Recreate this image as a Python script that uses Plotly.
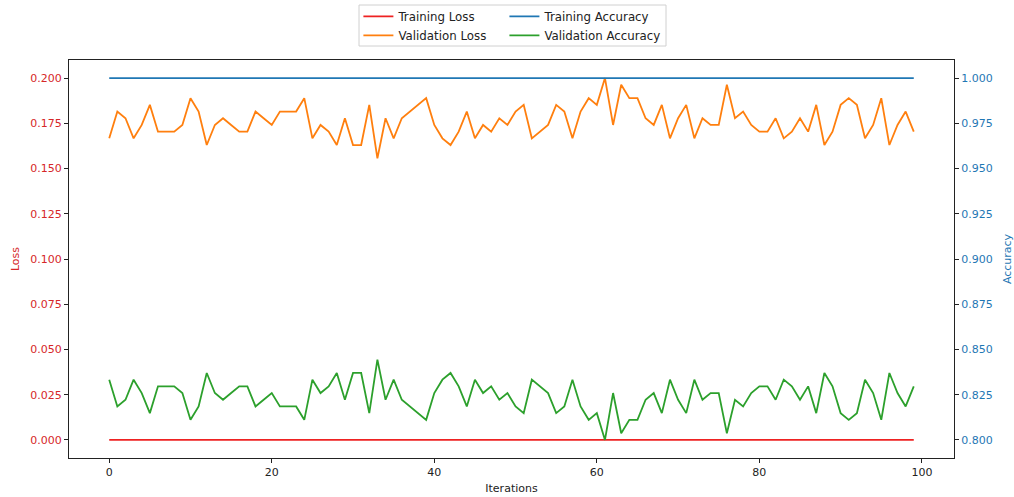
import plotly.graph_objects as go

# Iteration index
iterations = list(range(100))

# Per-iteration metrics
training_loss = [0.0] * 100
training_accuracy = [1.0] * 100

validation_loss = [
    0.1667, 0.1815, 0.1778, 0.1667, 0.1741, 0.1852, 0.1704, 0.1704, 0.1704, 0.1741,
    0.1889, 0.1815, 0.1630, 0.1741, 0.1778, 0.1741, 0.1704, 0.1704, 0.1815, 0.1778,
    0.1741, 0.1815, 0.1815, 0.1815, 0.1889, 0.1667, 0.1741, 0.1704, 0.1630, 0.1778,
    0.1630, 0.1630, 0.1852, 0.1556, 0.1778, 0.1667, 0.1778, 0.1815, 0.1852, 0.1889,
    0.1741, 0.1667, 0.1630, 0.1704, 0.1815, 0.1667, 0.1741, 0.1704, 0.1778, 0.1741,
    0.1815, 0.1852, 0.1667, 0.1704, 0.1741, 0.1852, 0.1815, 0.1667, 0.1815, 0.1889,
    0.1852, 0.2000, 0.1741, 0.1963, 0.1889, 0.1889, 0.1778, 0.1741, 0.1852, 0.1667,
    0.1778, 0.1852, 0.1667, 0.1778, 0.1741, 0.1741, 0.1963, 0.1778, 0.1815, 0.1741,
    0.1704, 0.1704, 0.1778, 0.1667, 0.1704, 0.1778, 0.1704, 0.1852, 0.1630, 0.1704,
    0.1852, 0.1889, 0.1852, 0.1667, 0.1741, 0.1889, 0.1630, 0.1741, 0.1815, 0.1704,
]

validation_accuracy = [
    0.8333, 0.8185, 0.8222, 0.8333, 0.8259, 0.8148, 0.8296, 0.8296, 0.8296, 0.8259,
    0.8111, 0.8185, 0.8370, 0.8259, 0.8222, 0.8259, 0.8296, 0.8296, 0.8185, 0.8222,
    0.8259, 0.8185, 0.8185, 0.8185, 0.8111, 0.8333, 0.8259, 0.8296, 0.8370, 0.8222,
    0.8370, 0.8370, 0.8148, 0.8444, 0.8222, 0.8333, 0.8222, 0.8185, 0.8148, 0.8111,
    0.8259, 0.8333, 0.8370, 0.8296, 0.8185, 0.8333, 0.8259, 0.8296, 0.8222, 0.8259,
    0.8185, 0.8148, 0.8333, 0.8296, 0.8259, 0.8148, 0.8185, 0.8333, 0.8185, 0.8111,
    0.8148, 0.8000, 0.8259, 0.8037, 0.8111, 0.8111, 0.8222, 0.8259, 0.8148, 0.8333,
    0.8222, 0.8148, 0.8333, 0.8222, 0.8259, 0.8259, 0.8037, 0.8222, 0.8185, 0.8259,
    0.8296, 0.8296, 0.8222, 0.8333, 0.8296, 0.8222, 0.8296, 0.8148, 0.8370, 0.8296,
    0.8148, 0.8111, 0.8148, 0.8333, 0.8259, 0.8111, 0.8370, 0.8259, 0.8185, 0.8296,
]

loss_ticks = [0.0, 0.025, 0.05, 0.075, 0.1, 0.125, 0.15, 0.175, 0.2]
acc_ticks = [0.8, 0.825, 0.85, 0.875, 0.9, 0.925, 0.95, 0.975, 1.0]
iter_ticks = [0, 20, 40, 60, 80, 100]

RED = "#d62728"
LINE_RED = "#ee2222"
ORANGE = "#ff7f0e"
BLUE = "#1f77b4"
GREEN = "#2ca02c"
FONT = "DejaVu Sans"

fig = go.Figure()
fig.add_trace(go.Scatter(x=iterations, y=training_loss, mode="lines", name="Training Loss",
                         line=dict(color=LINE_RED, width=1.8), yaxis="y", legend="legend"))
fig.add_trace(go.Scatter(x=iterations, y=validation_loss, mode="lines", name="Validation Loss",
                         line=dict(color=ORANGE, width=1.8), yaxis="y", legend="legend"))
fig.add_trace(go.Scatter(x=iterations, y=training_accuracy, mode="lines", name="Training Accuracy",
                         line=dict(color=BLUE, width=1.8), yaxis="y2", legend="legend2"))
fig.add_trace(go.Scatter(x=iterations, y=validation_accuracy, mode="lines", name="Validation Accuracy",
                         line=dict(color=GREEN, width=1.8), yaxis="y2", legend="legend2"))

axis_common = dict(showgrid=False, zeroline=False, showline=True, linecolor="#222",
                   linewidth=1, ticks="outside", ticklen=4, tickcolor="#222",
                   automargin=False)

legend_common = dict(yanchor="top", orientation="v", bgcolor="rgba(0,0,0,0)",
                     font=dict(size=11.8, color="#222"), tracegroupgap=0, itemwidth=30)

fig.update_layout(
    width=1014, height=497,
    margin=dict(l=69, r=60, t=60, b=39, autoexpand=False),
    paper_bgcolor="white", plot_bgcolor="white",
    font=dict(family=FONT, size=11, color="#222"),
    xaxis=dict(**axis_common, mirror=True, range=[-4.95, 103.95], tickvals=iter_ticks,
               title=dict(text="Iterations", font=dict(size=11, color="#222"), standoff=6)),
    yaxis=dict(**axis_common, range=[-0.01, 0.21], tickvals=loss_ticks, tickformat=".3f",
               tickfont=dict(color=RED, size=11),
               title=dict(text="Loss", font=dict(size=11, color=RED), standoff=8)),
    yaxis2=dict(**axis_common, overlaying="y", side="right", range=[0.79, 1.01],
                tickvals=acc_ticks, tickformat=".3f", tickfont=dict(color=BLUE, size=11),
                title=dict(text="Accuracy", font=dict(size=11, color=BLUE), standoff=16)),
    legend=dict(**legend_common, x=0.327, y=1.146, xanchor="left"),
    legend2=dict(**legend_common, x=0.492, y=1.146, xanchor="left"),
    shapes=[dict(type="rect", xref="paper", yref="paper",
                 x0=(359 - 69) / 885, x1=(666 - 69) / 885,
                 y0=(458 - 46) / 398, y1=(458 - 5) / 398,
                 line=dict(color="#d0d0d0", width=1), fillcolor="rgba(0,0,0,0)")],
)

fig.write_html("out.html")
